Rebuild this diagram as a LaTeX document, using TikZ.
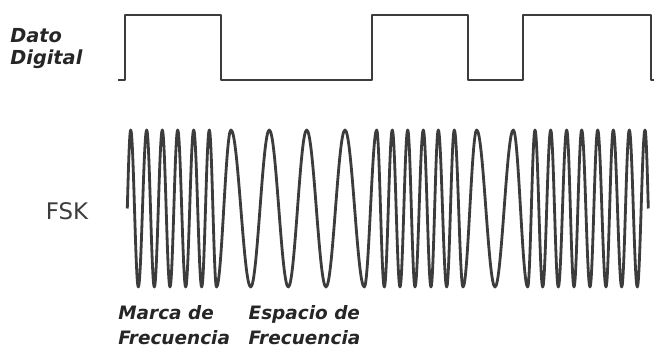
\documentclass[tikz,border=0pt]{standalone}
\usepackage{fontspec}
\usetikzlibrary{positioning}
\newfontfamily\lblfont{DejaVu Sans}[BoldFont={* Bold}, ItalicFont={* Oblique}, BoldItalicFont={* Bold Oblique}]
\definecolor{sig}{HTML}{3C3C3C}
\tikzset{
  trace/.style={draw=sig, line width=1.3pt, line join=round},
  lbl/.style={font=\lblfont\bfseries\itshape\fontsize{10.5}{14.2}\selectfont, align=left, inner sep=0pt, text=black!85},
}
\begin{document}
\begin{tikzpicture}[x=0.02cm, y=-0.02cm]
    \useasboundingbox (0,0) rectangle (656,347);
    % digital data
    \draw[trace] (118,80) -- (125,80) -- (125,15) -- (221,15) -- (221,80) -- (372,80) -- (372,15) -- (468,15) -- (468,80) -- (523,80) -- (523,15) -- (651,15) -- (651,80) -- (654,80);
    % FSK carrier, one entry per peak / trough
    \draw[trace, line width=1.6pt] (127.3,208.5) sin (130.7,130)
      \foreach \x [count=\i, remember=\x as \lastx (initially 130.7)] in
        {138.3,146.7,154.3,162.3,170,177.7,185.7,193.7,201.7,209.3,216.5,
         231,250.7,269.3,288.3,306.7,326,345,364.3,
         376.7,384.3,392.3,400,407.7,415,423.3,431,438.3,446.7,454.3,463,
         476.7,495,513.3,527.7,
         535,542.7,550.7,558.3,566.7,574,581.7,590,597.7,606,613.3,621.7,629.3,637.3,645}
        { cos ({(\lastx+\x)/2},208.5) sin (\x,{208.5-78.5*cos(180*\i)}) }
      cos (648.3,208.5);
    \node[lbl, font=\lblfont\bfseries\itshape\fontsize{11}{13}\selectfont, anchor=west] (dato) at (10,48.5) {Dato\\Digital};
    \node[font=\lblfont\fontsize{13}{15}\selectfont, text=sig, inner sep=0pt] (fsk) at (67,211) {FSK};
    \node[lbl, anchor=west] (marca) at (118,325.5) {Marca de\\Frecuencia};
    \node[lbl, right=0.36cm of marca] (espacio) {Espacio de\\Frecuencia};
\end{tikzpicture}
\end{document}
